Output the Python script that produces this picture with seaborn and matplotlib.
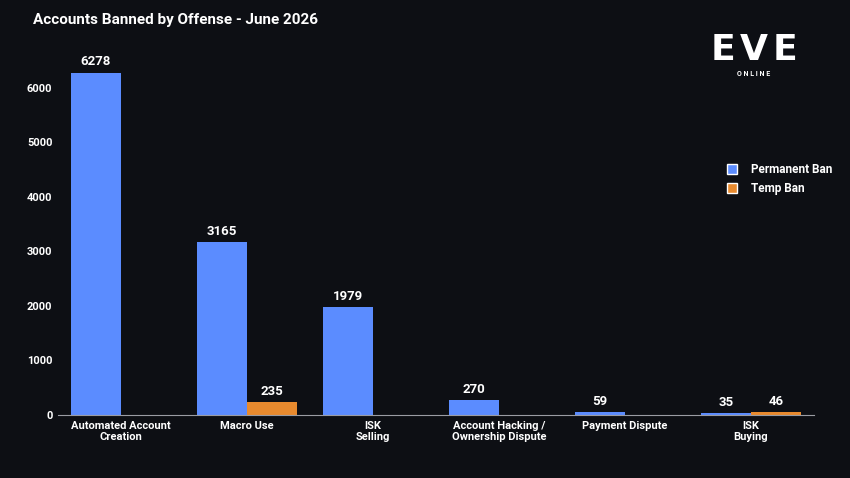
import matplotlib
matplotlib.use("Agg")
import matplotlib.pyplot as plt
import seaborn as sns
import pandas as pd
from matplotlib.patches import Patch

categories = ["Automated Account\nCreation", "Macro Use", "ISK\nSelling",
              "Account Hacking /\nOwnership Dispute", "Payment Dispute", "ISK\nBuying"]
permanent_ban = [6278, 3165, 1979, 270, 59, 35]
temp_ban = [0, 235, 0, 0, 0, 46]
series_names = ["Permanent Ban", "Temp Ban"]
yticks = [0, 1000, 2000, 3000, 4000, 5000, 6000]

BG = "#0d0f14"
BLUE = "#5b8cff"
ORANGE = "#e88a2e"
FONT = ["Roboto", "DejaVu Sans"]

sns.set_theme(style="dark")
plt.rcParams["font.family"] = FONT
plt.rcParams["font.weight"] = "bold"

df = pd.DataFrame({
    "category": categories * 2,
    "value": permanent_ban + temp_ban,
    "series": [series_names[0]] * len(categories) + [series_names[1]] * len(categories),
})

fig = plt.figure(figsize=(8.5, 4.78), dpi=100, facecolor=BG)
ax = fig.add_axes([58 / 850, 63 / 478, (814 - 58) / 850, (415 - 55) / 478])
ax.set_facecolor(BG)

sns.barplot(data=df, x="category", y="value", hue="series", order=categories,
            hue_order=series_names, palette=[BLUE, ORANGE], width=0.8,
            saturation=1, linewidth=0, edgecolor="none", ax=ax, legend=False)

for cont in ax.containers:
    labels = [f"{b.get_height():.0f}" if b.get_height() > 0 else "" for b in cont]
    ax.bar_label(cont, labels=labels, padding=3, color="white", fontsize=9.5,
                 fontweight="bold")

ax.set_xlim(-0.5, 5.5)
ax.set_ylim(0, 6600)
ax.set_yticks(yticks)
ax.set_xlabel("")
ax.set_ylabel("")
ax.grid(False)
for s in ["top", "right", "left"]:
    ax.spines[s].set_visible(False)
ax.spines["bottom"].set_color("#9a9ca3")
ax.spines["bottom"].set_linewidth(0.8)
ax.tick_params(axis="y", length=0, pad=4, labelcolor="white", labelsize=8)
ax.tick_params(axis="x", length=0, pad=4, labelcolor="white", labelsize=8)
for t in ax.get_xticklabels() + ax.get_yticklabels():
    t.set_fontweight("bold")

fig.text(33 / 850, 1 - 20 / 478, "Accounts Banned by Offense - June 2026",
         color="white", fontsize=11, fontweight="bold", va="center", ha="left")

# logo
for lx, letter in zip([723, 754, 785], "EVE"):
    fig.text(lx / 850, 1 - 50 / 478, letter, color="white", fontsize=26,
             fontweight="bold", family="DejaVu Sans", ha="center", va="center")
fig.text(754 / 850, 1 - 74 / 478, "O N L I N E", color="white", fontsize=5,
         fontweight="bold", ha="center", va="center")

# legend
handles = [Patch(facecolor=BLUE, label=series_names[0]),
           Patch(facecolor=ORANGE, label=series_names[1])]
leg = fig.legend(handles=handles, loc="center left",
                 bbox_to_anchor=(716 / 850, 1 - 179 / 478), frameon=False,
                 handlelength=0.9, handleheight=0.9, handletextpad=1.2,
                 labelspacing=0.5, fontsize=8.5)
for t in leg.get_texts():
    t.set_color("white")
    t.set_fontweight("bold")

fig.savefig("out.png", dpi=100, facecolor=BG)
